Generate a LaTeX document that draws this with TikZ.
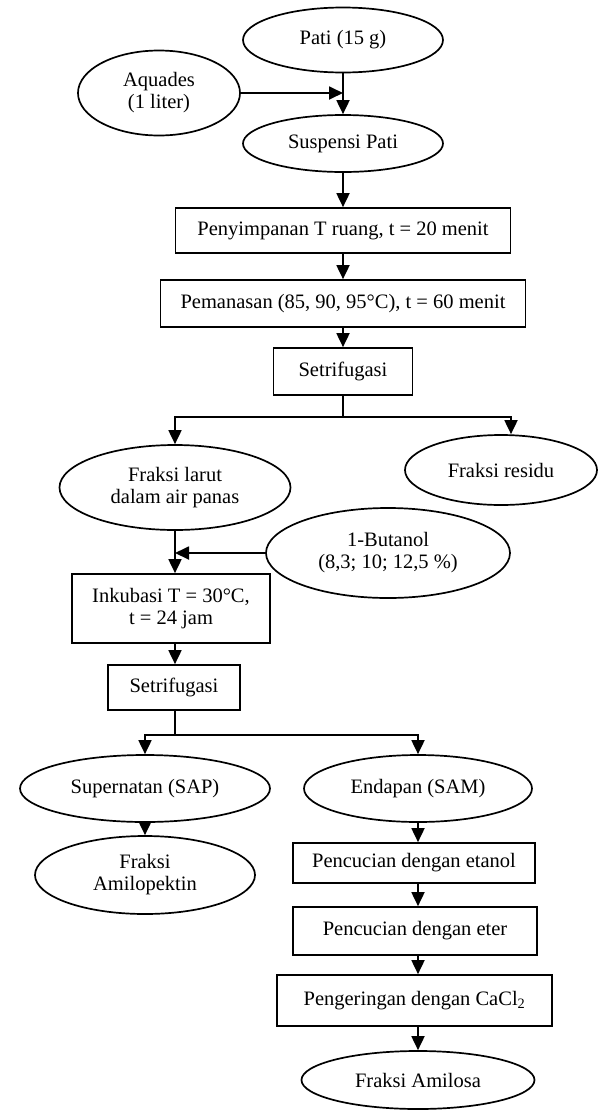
\documentclass[tikz,border=0pt]{standalone}
\usepackage{fontspec}
\setmainfont{Liberation Serif}
\usetikzlibrary{arrows.meta,shapes.geometric}
\begin{document}
\begin{tikzpicture}[x=1pt,y=-1pt,
  every node/.style={font=\fontsize{20.5pt}{22pt}\selectfont, inner sep=0pt, align=center},
  oval/.style={draw, ellipse, line width=1.7pt},
  stepbox/.style={draw, rectangle, line width=1.7pt},
  conn/.style={line width=1.8pt},
  arr/.style={conn, -{Triangle[width=13pt,length=14pt]}}]
\useasboundingbox (0,0) rectangle (599,1112);

% nodes
\node[oval, minimum width=200pt, minimum height=65pt] (pati) at (343,40) {Pati (15 g)};
\node[oval, minimum width=162pt, minimum height=85pt] (aqu) at (159,93) {Aquades\\(1 liter)};
\node[oval, minimum width=200pt, minimum height=57pt] (susp) at (343,143.5) {Suspensi Pati};
\node[stepbox, minimum width=335pt, minimum height=45pt] (simpan) at (343,230.5) {Penyimpanan T ruang, t = 20 menit};
\node[stepbox, minimum width=365pt, minimum height=47pt] (panas) at (343,303.5) {Pemanasan (85, 90, 95°C), t = 60 menit};
\node[stepbox, minimum width=139pt, minimum height=47pt] (sen1) at (343,371.5) {Setrifugasi};
\node[oval, minimum width=231pt, minimum height=85pt] (larut) at (175,487.5) {Fraksi larut\\dalam air panas};
\node[oval, minimum width=192pt, minimum height=70pt] (residu) at (501,470) {Fraksi residu};
\node[oval, minimum width=244pt, minimum height=90pt] (buta) at (388,553) {1-Butanol\\(8,3; 10; 12,5 \%)};
\node[stepbox, minimum width=198pt, minimum height=69pt] (inku) at (171,608.5) {Inkubasi T = 30°C,\\t = 24 jam};
\node[stepbox, minimum width=132pt, minimum height=45pt] (sen2) at (174,687.5) {Setrifugasi};
\node[oval, minimum width=250pt, minimum height=67pt] (super) at (145,788.5) {Supernatan (SAP)};
\node[oval, minimum width=228pt, minimum height=67pt] (endap) at (418,788.5) {Endapan (SAM)};
\node[oval, minimum width=220pt, minimum height=78pt] (amilop) at (145,875) {Fraksi\\Amilopektin};
\node[stepbox, minimum width=242pt, minimum height=40pt] (cuci1) at (414,863) {Pencucian dengan etanol};
\node[stepbox, minimum width=244pt, minimum height=48pt] (cuci2) at (415,931) {Pencucian dengan eter};
\node[stepbox, minimum width=275pt, minimum height=51pt] (kering) at (414.5,1000.5) {Pengeringan dengan CaCl\textsubscript{2}};
\node[oval, minimum width=233pt, minimum height=58pt] (amilosa) at (418,1080) {Fraksi Amilosa};

% junction coordinates
\coordinate (s1) at (343,417);
\coordinate (s1l) at (175,417);
\coordinate (s1r) at (511,417);
\coordinate (s2) at (175,735);
\coordinate (s2l) at (145,735);
\coordinate (s2r) at (418,735);

% connectors
\draw[arr] (pati.south) -- (susp.north);
\draw[arr] (aqu.east) -- (aqu.east -| pati.south);
\draw[arr] (susp.south) -- (simpan.north);
\draw[arr] (simpan.south) -- (panas.north);
\draw[arr] (panas.south) -- (sen1.north);
\draw[conn] (sen1.south) -- (s1);
\draw[arr] (s1) -- (s1l) -- (larut.north);
\draw[arr] (s1) -- (s1r) -- (s1r |- residu.north);
\draw[arr] (larut.south) -- (larut.south |- inku.north);
\draw[arr] (buta.west) -- (buta.west -| larut.south);
\draw[arr] (inku.south -| larut.south) -- (larut.south |- sen2.north);
\draw[conn] (sen2.south -| s2) -- (s2);
\draw[arr] (s2) -- (s2l) -- (super.north);
\draw[arr] (s2) -- (s2r) -- (endap.north);
\draw[arr] (super.south) -- (amilop.north);
\draw[arr] (endap.south) -- (endap.south |- cuci1.north);
\draw[arr] (endap.south |- cuci1.south) -- (endap.south |- cuci2.north);
\draw[arr] (endap.south |- cuci2.south) -- (endap.south |- kering.north);
\draw[arr] (endap.south |- kering.south) -- (amilosa.north);
\end{tikzpicture}
\end{document}
